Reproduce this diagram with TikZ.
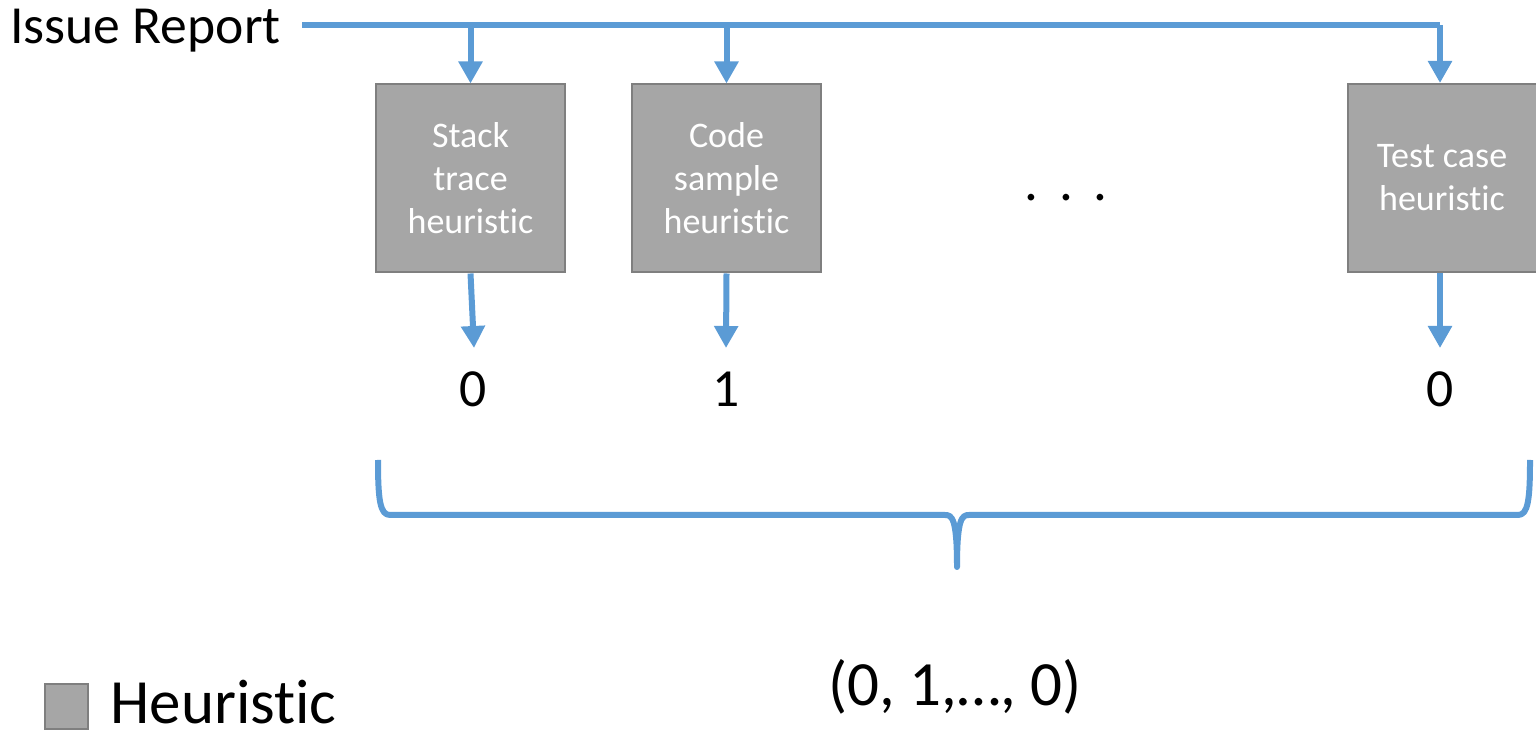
\documentclass[tikz,border=0pt]{standalone}
\usepackage{fontspec}
\setmainfont[Ligatures=NoCommon,RawFeature={-rlig}]{Carlito}
\usetikzlibrary{arrows.meta}
\definecolor{flow}{HTML}{5B9BD5}
\definecolor{boxfill}{HTML}{A6A6A6}
\definecolor{boxline}{HTML}{7F7F7F}
\newcommand{\nolig}{\kern0pt}
\begin{document}
\begin{tikzpicture}[x=0.5pt,y=-0.5pt,
  heur/.style={draw=boxline,line width=1pt,fill=boxfill,minimum width=94.5pt,minimum height=94pt,inner sep=0pt,align=center,text=white,font=\fontsize{18}{21.5}\selectfont},
  flowline/.style={draw=flow,line width=3pt},
  arr/.style={flowline,-{Triangle[length=11pt,width=11.5pt]}},
  bigtxt/.style={inner sep=0pt,font=\fontsize{26.8}{32}\selectfont},
  hugetxt/.style={inner sep=0pt,font=\fontsize{31.5}{37}\selectfont}]
\useasboundingbox (0,0) rectangle (1536,731);
% heuristic boxes
\node[heur] (b1) at (470.5,178.5) {Stack\\trace\\heurist\nolig ic};
\node[heur] (b2) at (726.5,178.5) {Code\\sample\\heurist\nolig ic};
\node[heur] (b3) at (1442,178) {Test case\\heurist\nolig ic};
% input
\node[bigtxt,anchor=base west] (issue) at (10,44) {Issue Report};
\coordinate (start) at (302,25.5);
\coordinate (corner) at (1440,25.5);
\draw[flowline] (start) -- (corner);
\draw[arr] (corner) -- (b3.north -| corner);
\draw[arr] (b1.north |- start) -- (b1.north);
\draw[arr] (b2.north |- start) -- (b2.north);
% dots
\node[inner sep=0pt,font=\fontsize{27.5}{33}\selectfont] (dots) at (1066,198) {.\hspace{10.35pt}.\hspace{10.35pt}.};
% outputs
\node[bigtxt,anchor=base] (o1) at (473,407) {0};
\node[bigtxt,anchor=base] (o2) at (726,407) {1};
\node[bigtxt,anchor=base] (o3) at (1440,407) {0};
\coordinate (t1) at (474,348);
\coordinate (t2) at (726,348);
\coordinate (t3) at (1440,348);
\draw[arr] (b1.south) -- (t1);
\draw[arr] (b2.south) -- (t2);
\draw[arr] (b3.south -| t3) -- (t3);
% brace
\coordinate (bl) at (378,460);
\coordinate (br) at (1530,460);
\coordinate (bc) at (957,567);
\draw[flowline,line join=round] (bl) .. controls (378,500) and (380,515) .. (390,515) -- (945,515)
  .. controls (952,515) and (957,518) .. (bc)
  .. controls (957,518) and (962,515) .. (969,515) -- (1518,515)
  .. controls (1528,515) and (1530,500) .. (br);
% result
\node[hugetxt,anchor=base] (res) at (955,705) {(0, 1,…, 0)};
% legend
\node[draw=boxline,line width=1pt,fill=boxfill,minimum width=21.5pt,minimum height=22.5pt,inner sep=0pt] (leg) at (66.5,706.5) {};
\node[hugetxt,anchor=base west] (legtxt) at (110,723) {Heurist\nolig ic};
\end{tikzpicture}
\end{document}
